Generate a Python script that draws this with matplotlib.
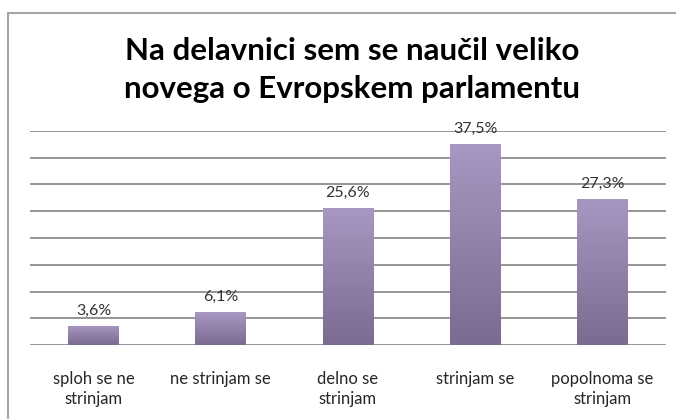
import matplotlib
matplotlib.use("Agg")
import matplotlib.pyplot as plt
import numpy as np
from matplotlib.patches import Rectangle
from matplotlib.colors import LinearSegmentedColormap

"""DATA"""
categories = ["sploh se ne\nstrinjam", "ne strinjam se", "delno se\nstrinjam",
              "strinjam se", "popolnoma se\nstrinjam"]
values = [3.6, 6.1, 25.6, 37.5, 27.3]
value_labels = ["3,6%", "6,1%", "25,6%", "37,5%", "27,3%"]
title = "Na delavnici sem se naučil veliko\nnovega o Evropskem parlamentu"
"""END DATA"""

W, H = 676, 419
plt.rcParams['font.family'] = ['Lato', 'DejaVu Sans']

fig = plt.figure(figsize=(W / 100, H / 100), dpi=100)
fig.patch.set_facecolor("white")

# outer chart frame
fig.patches.append(Rectangle((8 / W, -0.1), 1.0, (H - 13) / H + 0.1,
                             transform=fig.transFigure, fill=False,
                             edgecolor="#a6a6a6", linewidth=1.5))

ax = fig.add_axes([30 / W, (H - 345) / H, (666 - 30) / W, (345 - 131) / H])
ax.set_ylim(0, 40)
ax.set_xlim(-0.5, len(categories) - 0.5)
ax.set_yticks(np.arange(0, 41, 5))
ax.yaxis.grid(True, color="#8c8c8c", linewidth=1.3)
ax.set_axisbelow(True)
for s in ax.spines.values():
    s.set_visible(False)
ax.tick_params(axis="y", left=False, labelleft=False)
ax.tick_params(axis="x", bottom=False, pad=15)
ax.set_xticks(range(len(categories)))
ax.set_xticklabels(categories, fontsize=12, color="#262626", linespacing=1.3)

cmap = LinearSegmentedColormap.from_list("purp", ["#7b6b91", "#a897c2"])
grad = np.linspace(0, 1, 256).reshape(-1, 1)

bars = ax.bar(range(len(values)), values, width=0.4, color="#9584ad",
              edgecolor="none", zorder=2)
for b, lab in zip(bars, value_labels):
    x0, y0, w, h = b.get_x(), b.get_y(), b.get_width(), b.get_height()
    im = ax.imshow(grad, cmap=cmap, origin="lower", aspect="auto",
                   extent=(x0, x0 + w, y0, y0 + h), zorder=3)
    im.set_clip_path(b)
    ax.annotate(lab, (x0 + w / 2, h), xytext=(0, 6), textcoords="offset points",
                ha="center", va="bottom", fontsize=11.5, color="#333333")
ax.set_xlim(-0.5, len(categories) - 0.5)
ax.set_ylim(0, 40)

fig.text(352 / W, 1 - 70 / H, title, ha="center", va="center",
         fontsize=22.5, fontweight="bold", color="black", linespacing=1.42)

fig.savefig("out.png", dpi=100)
